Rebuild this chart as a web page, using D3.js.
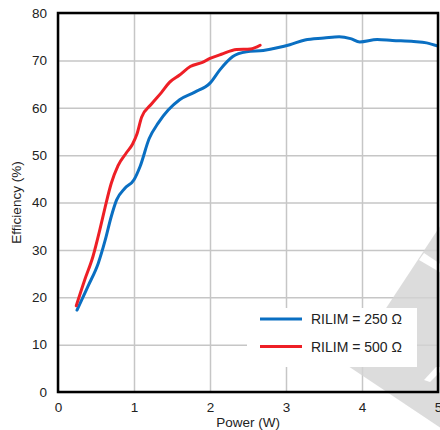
<!DOCTYPE html>
<html><head><meta charset="utf-8">
<script src="https://cdn.jsdelivr.net/npm/d3@7/dist/d3.min.js"></script>
<style>body{margin:0;background:#fff}svg{display:block}text{font-family:"Liberation Sans",Arial,sans-serif;fill:#222}</style>
</head><body><svg id="c" width="440" height="430"></svg>
<script>
const xTicks = [0,1,2,3,4,5];
const yTicks = [0,10,20,30,40,50,60,70,80];
const seriesNames = ["RILIM = 250 \u03A9","RILIM = 500 \u03A9"];
const seriesColors = ["#0a6fc2","#ee1f26"];
const blueP = [0.25,0.4,0.53,0.62,0.7,0.77,0.88,1.0,1.08,1.2,1.32,1.45,1.6,1.8,2.0,2.13,2.3,2.48,2.7,2.9,3.05,3.25,3.5,3.7,3.85,3.97,4.2,4.4,4.68,4.85,5.0];
const blueE = [17.3,22.5,27.2,32,37,40.5,43,44.8,47.6,53.5,56.8,59.5,61.7,63.3,65.2,68.0,70.8,71.8,72.1,72.7,73.3,74.3,74.7,75.0,74.6,73.9,74.4,74.2,74.0,73.7,73.0];
const redP = [0.24,0.35,0.46,0.55,0.62,0.7,0.79,0.9,0.98,1.04,1.1,1.23,1.36,1.47,1.6,1.74,1.9,2.0,2.15,2.35,2.53,2.66];
const redE = [18.2,23.6,28.6,34.2,39,44,47.8,50.5,52.3,54.5,58,60.8,63.2,65.4,66.9,68.7,69.6,70.4,71.3,72.3,72.4,73.2];

const svg = d3.select("#c");
const L=58,R=438,T=13,B=392;
const x = d3.scaleLinear().domain([0,5]).range([L,R]);
const y = d3.scaleLinear().domain([0,80]).range([B,T]);

// grid
svg.append("g").attr("transform",`translate(0,${B})`)
  .call(d3.axisBottom(x).tickValues(xTicks).tickSize(-(B-T)).tickFormat(""))
  .call(g=>{g.select(".domain").remove();g.selectAll("line").attr("stroke","#c6c6c6").attr("stroke-width",1.5);});
svg.append("g").attr("transform",`translate(${L},0)`)
  .call(d3.axisLeft(y).tickValues(yTicks).tickSize(-(R-L)).tickFormat(""))
  .call(g=>{g.select(".domain").remove();g.selectAll("line").attr("stroke","#c6c6c6").attr("stroke-width",1.5);});

// watermark
const wm = svg.append("g").attr("opacity",0.8);
wm.append("path").attr("d","M348,366 L460,196 L460,441 Z").attr("fill","#d4d4d4");
wm.append("path").attr("d","M419,260 L424,253 L460,277 L460,284 Z").attr("fill","#fff");
wm.append("path").attr("d","M424,380 L436,367 L440,367 L440,372 L430,382 Z").attr("fill","#fff");

// legend box
svg.append("rect").attr("x",247).attr("y",308).attr("width",170).attr("height",59).attr("fill","#fff");

// curves
const line = d3.line().x(d=>x(d[0])).y(d=>y(d[1])).curve(d3.curveMonotoneX);
const data = [d3.zip(blueP,blueE), d3.zip(redP,redE)];
svg.append("defs").append("clipPath").attr("id","cp").append("rect").attr("x",L).attr("y",T).attr("width",R-L).attr("height",B-T);
data.forEach((d,i)=>{
  svg.append("path").attr("d",line(d)).attr("fill","none").attr("stroke",seriesColors[i])
    .attr("stroke-width",3).attr("stroke-linejoin","round").attr("stroke-linecap","round").attr("clip-path","url(#cp)");
});

// frame
svg.append("rect").attr("x",L).attr("y",T).attr("width",R-L).attr("height",B-T)
  .attr("fill","none").attr("stroke","#000").attr("stroke-width",2.5);

// tick labels
svg.append("g").attr("transform",`translate(0,${B})`)
  .call(d3.axisBottom(x).tickValues(xTicks).tickSize(0).tickPadding(10).tickFormat(d3.format("d")))
  .call(g=>{g.select(".domain").remove();g.selectAll("text").attr("font-size",13.5).attr("fill","#222");});
svg.append("g").attr("transform",`translate(${L},0)`)
  .call(d3.axisLeft(y).tickValues(yTicks).tickSize(0).tickPadding(11).tickFormat(d3.format("d")))
  .call(g=>{g.select(".domain").remove();g.selectAll("text").attr("font-size",13.5).attr("fill","#222");});

// axis titles
svg.append("text").attr("x",(L+R)/2).attr("y",427).attr("text-anchor","middle").attr("font-size",13.5).text("Power (W)");
svg.append("text").attr("transform",`translate(21,${(T+B)/2}) rotate(-90)`).attr("text-anchor","middle").attr("font-size",13.5).text("Efficiency (%)");

// legend
seriesNames.forEach((n,i)=>{
  const ly = 319 + i*27.5;
  svg.append("line").attr("x1",260).attr("x2",302).attr("y1",ly).attr("y2",ly).attr("stroke",seriesColors[i]).attr("stroke-width",3);
  svg.append("text").attr("x",311).attr("y",ly+5).attr("font-size",14).text(n);
});
</script></body></html>
